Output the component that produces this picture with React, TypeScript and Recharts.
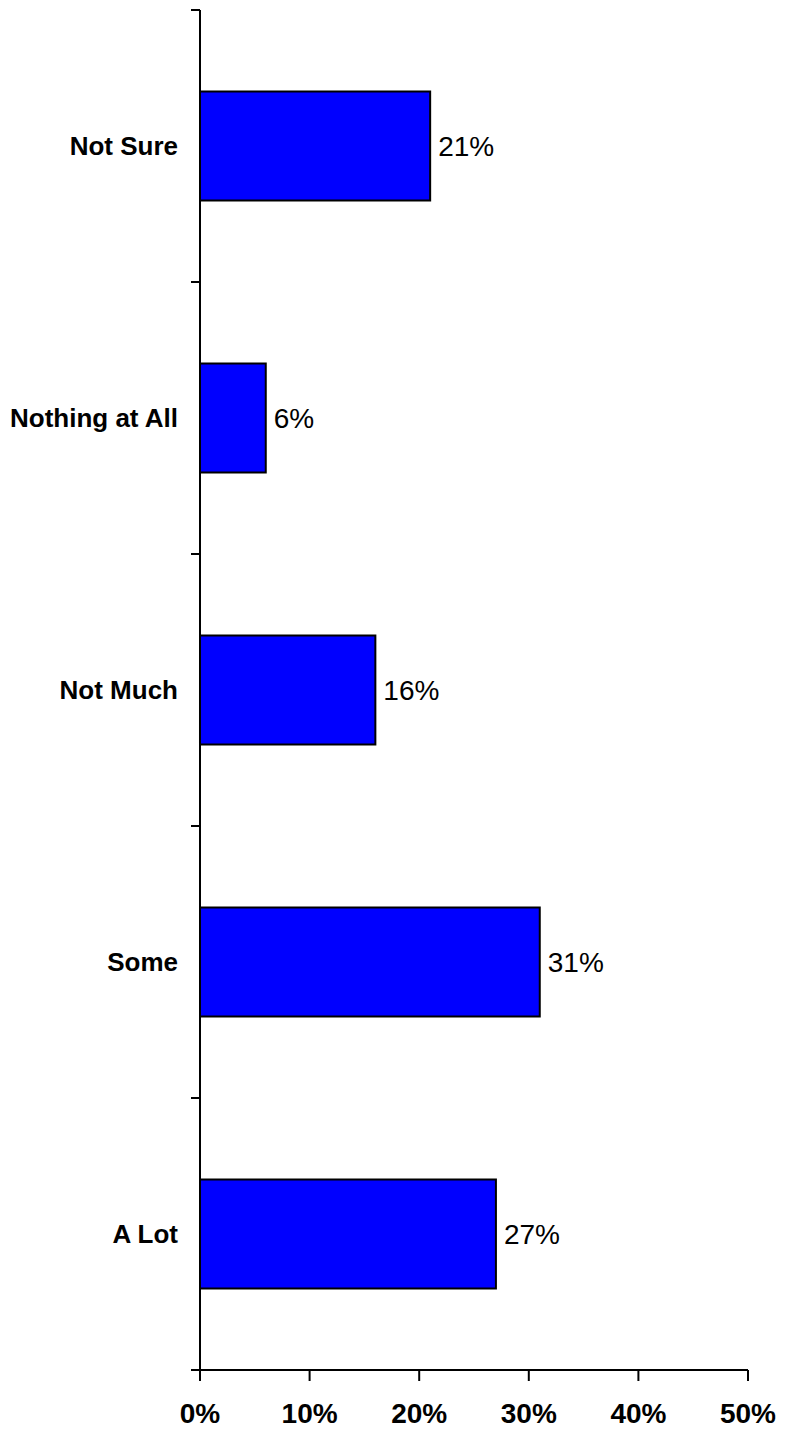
import React from "react";
import { BarChart, Bar, XAxis, YAxis, LabelList } from "recharts";

const categories = ["Not Sure", "Nothing at All", "Not Much", "Some", "A Lot"];
const values = [21, 6, 16, 31, 27];
const xTicks = [0, 10, 20, 30, 40, 50];

const data = categories.map((name, i) => ({ name, value: values[i] }));

const font = "'Liberation Sans', Arial, sans-serif";
const TICK_LEN = 9;
const LABEL_GAP = 22;

// category label plus Excel-style tick marks on the band boundaries
const CategoryTick = (props: any) => {
	const { x, y, payload, height, visibleTicksCount, index } = props;
	const band = height / visibleTicksCount;
	const axisX = x + LABEL_GAP;
	const last = index === visibleTicksCount - 1;
	return (
		<g>
			<line x1={axisX - TICK_LEN} x2={axisX} y1={y - band / 2} y2={y - band / 2} stroke="#000" strokeWidth={2} />
			{last && (
				<line x1={axisX - TICK_LEN} x2={axisX} y1={y + band / 2} y2={y + band / 2} stroke="#000" strokeWidth={2} />
			)}
			<text
				x={x}
				y={y}
				dy="0.355em"
				textAnchor="end"
				fill="#000"
				fontSize={26}
				fontWeight="bold"
				fontFamily={font}
			>
				{payload.value}
			</text>
		</g>
	);
};

function App() {
	return (
		<div>
			<BarChart
				width={781}
				height={1423}
				data={data}
				layout="vertical"
				barCategoryGap="30%"
				margin={{ top: 2, right: 41, left: 0, bottom: 0 }}
			>
				<XAxis
					type="number"
					domain={[0, 50]}
					ticks={xTicks}
					tickFormatter={(v) => `${v}%`}
					stroke="#000"
					strokeWidth={2}
					tickSize={11}
					tickMargin={22}
					height={61}
					tick={{ fill: "#000", fontSize: 28, fontWeight: "bold", fontFamily: font }}
				/>
				<YAxis
					type="category"
					dataKey="name"
					width={192}
					tickLine={false}
					tickSize={0}
					tickMargin={LABEL_GAP}
					stroke="#000"
					strokeWidth={2}
					tick={CategoryTick}
				/>
				<Bar
					dataKey="value"
					fill="#0000FF"
					stroke="#000"
					strokeWidth={2}
					isAnimationActive={false}
				>
					<LabelList
						dataKey="value"
						position="right"
						offset={8}
						formatter={(v: any) => `${v}%`}
						fill="#000"
						fontSize={28}
						fontFamily={font}
					/>
				</Bar>
			</BarChart>
		</div>
	);
}

export default App;
